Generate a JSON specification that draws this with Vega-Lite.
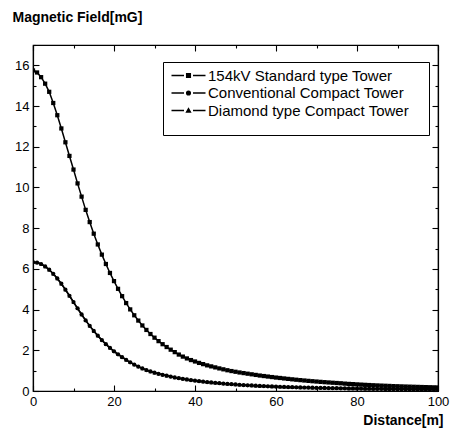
{
  "$schema": "https://vega.github.io/schema/vega-lite/v6.json",
  "width": 405,
  "height": 346,
  "autosize": {"type": "none"},
  "padding": {"left": 33, "top": 45, "right": 13, "bottom": 43},
  "background": "white",
  "config": {
    "view": {"stroke": "black", "strokeWidth": 1.2},
    "font": "Liberation Sans",
    "axis": {
      "domainColor": "black", "domainWidth": 1.2, "tickColor": "black", "tickWidth": 1.1,
      "labelColor": "black", "labelFont": "Liberation Sans", "labelFontSize": 13,
      "titleColor": "black", "titleFont": "Liberation Sans", "titleFontSize": 14, "titleFontWeight": "bold",
      "grid": false
    }
  },
  "data": {"values": [
    {"d":0,"std":15.75,"conv":6.33,"dia":6.33},{"d":1,"std":15.65,"conv":6.31,"dia":6.31},{"d":2,"std":15.42,"conv":6.24,"dia":6.24},{"d":3,"std":15.1,"conv":6.12,"dia":6.12},{"d":4,"std":14.7,"conv":5.96,"dia":5.96},
    {"d":5,"std":14.15,"conv":5.76,"dia":5.76},{"d":6,"std":13.55,"conv":5.53,"dia":5.53},{"d":7,"std":12.9,"conv":5.27,"dia":5.27},{"d":8,"std":12.22,"conv":4.98,"dia":4.98},{"d":9,"std":11.55,"conv":4.68,"dia":4.68},
    {"d":10,"std":10.88,"conv":4.37,"dia":4.37},{"d":11,"std":10.2,"conv":4.06,"dia":4.06},{"d":12,"std":9.55,"conv":3.76,"dia":3.76},{"d":13,"std":8.9,"conv":3.47,"dia":3.47},{"d":14,"std":8.3,"conv":3.2,"dia":3.2},
    {"d":15,"std":7.73,"conv":2.95,"dia":2.95},{"d":16,"std":7.2,"conv":2.72,"dia":2.72},{"d":17,"std":6.7,"conv":2.5,"dia":2.5},{"d":18,"std":6.24,"conv":2.3,"dia":2.3},{"d":19,"std":5.8,"conv":2.12,"dia":2.12},
    {"d":20,"std":5.4,"conv":1.95,"dia":1.95},{"d":21,"std":5.02,"conv":1.8,"dia":1.8},{"d":22,"std":4.66,"conv":1.66,"dia":1.66},{"d":23,"std":4.32,"conv":1.53,"dia":1.53},{"d":24,"std":4.01,"conv":1.41,"dia":1.41},
    {"d":25,"std":3.72,"conv":1.3,"dia":1.3},{"d":26,"std":3.46,"conv":1.2,"dia":1.2},{"d":27,"std":3.22,"conv":1.11,"dia":1.11},{"d":28,"std":3.0,"conv":1.03,"dia":1.03},{"d":29,"std":2.8,"conv":0.96,"dia":0.96},
    {"d":30,"std":2.62,"conv":0.9,"dia":0.9},{"d":31,"std":2.45,"conv":0.845,"dia":0.845},{"d":32,"std":2.3,"conv":0.795,"dia":0.795},{"d":33,"std":2.16,"conv":0.75,"dia":0.75},{"d":34,"std":2.03,"conv":0.708,"dia":0.708},
    {"d":35,"std":1.91,"conv":0.668,"dia":0.668},{"d":36,"std":1.79,"conv":0.632,"dia":0.632},{"d":37,"std":1.69,"conv":0.598,"dia":0.598},{"d":38,"std":1.6,"conv":0.566,"dia":0.566},{"d":39,"std":1.52,"conv":0.537,"dia":0.537},
    {"d":40,"std":1.45,"conv":0.51,"dia":0.51},{"d":41,"std":1.38,"conv":0.485,"dia":0.485},{"d":42,"std":1.32,"conv":0.462,"dia":0.462},{"d":43,"std":1.26,"conv":0.44,"dia":0.44},{"d":44,"std":1.21,"conv":0.42,"dia":0.42},
    {"d":45,"std":1.16,"conv":0.402,"dia":0.402},{"d":46,"std":1.11,"conv":0.385,"dia":0.385},{"d":47,"std":1.065,"conv":0.367,"dia":0.367},{"d":48,"std":1.02,"conv":0.35,"dia":0.35},{"d":49,"std":0.98,"conv":0.335,"dia":0.335},
    {"d":50,"std":0.945,"conv":0.32,"dia":0.32},{"d":51,"std":0.91,"conv":0.307,"dia":0.307},{"d":52,"std":0.88,"conv":0.294,"dia":0.294},{"d":53,"std":0.85,"conv":0.282,"dia":0.282},{"d":54,"std":0.82,"conv":0.271,"dia":0.271},
    {"d":55,"std":0.79,"conv":0.26,"dia":0.26},{"d":56,"std":0.76,"conv":0.25,"dia":0.25},{"d":57,"std":0.735,"conv":0.241,"dia":0.241},{"d":58,"std":0.71,"conv":0.232,"dia":0.232},{"d":59,"std":0.685,"conv":0.224,"dia":0.224},
    {"d":60,"std":0.66,"conv":0.216,"dia":0.216},{"d":61,"std":0.64,"conv":0.209,"dia":0.209},{"d":62,"std":0.617,"conv":0.202,"dia":0.202},{"d":63,"std":0.595,"conv":0.195,"dia":0.195},{"d":64,"std":0.574,"conv":0.189,"dia":0.189},
    {"d":65,"std":0.554,"conv":0.183,"dia":0.183},{"d":66,"std":0.535,"conv":0.177,"dia":0.177},{"d":67,"std":0.516,"conv":0.172,"dia":0.172},{"d":68,"std":0.498,"conv":0.167,"dia":0.167},{"d":69,"std":0.481,"conv":0.162,"dia":0.162},
    {"d":70,"std":0.465,"conv":0.157,"dia":0.157},{"d":71,"std":0.449,"conv":0.153,"dia":0.153},{"d":72,"std":0.434,"conv":0.149,"dia":0.149},{"d":73,"std":0.42,"conv":0.145,"dia":0.145},{"d":74,"std":0.406,"conv":0.141,"dia":0.141},
    {"d":75,"std":0.393,"conv":0.137,"dia":0.137},{"d":76,"std":0.38,"conv":0.134,"dia":0.134},{"d":77,"std":0.362,"conv":0.13,"dia":0.13},{"d":78,"std":0.349,"conv":0.127,"dia":0.127},{"d":79,"std":0.337,"conv":0.124,"dia":0.124},
    {"d":80,"std":0.325,"conv":0.121,"dia":0.121},{"d":81,"std":0.314,"conv":0.118,"dia":0.118},{"d":82,"std":0.303,"conv":0.115,"dia":0.115},{"d":83,"std":0.293,"conv":0.113,"dia":0.113},{"d":84,"std":0.283,"conv":0.11,"dia":0.11},
    {"d":85,"std":0.274,"conv":0.108,"dia":0.108},{"d":86,"std":0.265,"conv":0.105,"dia":0.105},{"d":87,"std":0.257,"conv":0.103,"dia":0.103},{"d":88,"std":0.249,"conv":0.101,"dia":0.101},{"d":89,"std":0.241,"conv":0.099,"dia":0.099},
    {"d":90,"std":0.234,"conv":0.097,"dia":0.097},{"d":91,"std":0.227,"conv":0.095,"dia":0.095},{"d":92,"std":0.22,"conv":0.093,"dia":0.093},{"d":93,"std":0.214,"conv":0.091,"dia":0.091},{"d":94,"std":0.208,"conv":0.089,"dia":0.089},
    {"d":95,"std":0.202,"conv":0.087,"dia":0.087},{"d":96,"std":0.196,"conv":0.086,"dia":0.086},{"d":97,"std":0.19,"conv":0.084,"dia":0.084},{"d":98,"std":0.185,"conv":0.082,"dia":0.082},{"d":99,"std":0.18,"conv":0.081,"dia":0.081},
    {"d":100,"std":0.175,"conv":0.079,"dia":0.079}
  ]},
  "transform": [{"fold": ["std", "conv", "dia"], "as": ["series", "B"]}],
  "layer": [
    {
      "mark": {"type": "line", "strokeWidth": 1.5, "clip": true},
      "encoding": {
        "x": {"field": "d", "type": "quantitative", "scale": {"domain": [0, 100], "nice": false},
          "axis": {"orient": "bottom", "values": [0,10,20,30,40,50,60,70,80,90,100],
            "labelExpr": "datum.value % 20 === 0 ? datum.label : ''",
            "tickSize": {"condition": {"test": "datum.value % 20 === 0", "value": -6}, "value": -3},
            "labelPadding": 10, "labelFlush": false,
            "title": "Distance[m]", "titleAlign": "right", "titleAnchor": null, "titleX": 410, "titleY": 22, "titleBaseline": "top"}},
        "y": {"field": "B", "type": "quantitative", "scale": {"domain": [0, 17], "nice": false},
          "axis": {"orient": "left", "values": [0,1,2,3,4,5,6,7,8,9,10,11,12,13,14,15,16,17],
            "labelExpr": "datum.value % 2 === 0 ? datum.label : ''",
            "tickSize": {"condition": {"test": "datum.value % 2 === 0", "value": -6}, "value": -3},
            "labelPadding": 10, "labelFlush": false,
            "title": "Magnetic Field[mG]", "titleAngle": 0, "titleAlign": "left", "titleAnchor": null, "titleX": -21, "titleY": -35, "titleBaseline": "top"}},
        "color": {"field": "series", "type": "nominal",
          "scale": {"domain": ["std", "conv", "dia"], "range": ["black", "black", "black"]},
          "legend": {
            "orient": "none", "legendX": 130, "legendY": 17,
            "title": "_________________________________________________________________",
            "titleOrient": "bottom", "titleFontSize": 7, "titlePadding": 3, "titleColor": "white", "titleLimit": 1000,
            "strokeColor": "black", "fillColor": "white", "padding": 6,
            "symbolSize": 100, "symbolOffset": 12, "labelOffset": 12, "rowPadding": 1.5,
            "labelFont": "Liberation Sans", "labelFontSize": 15, "labelColor": "black", "labelLimit": 400,
            "labelExpr": "datum.value === 'std' ? '154kV Standard type Tower' : datum.value === 'conv' ? 'Conventional Compact Tower' : 'Diamond type Compact Tower'",
            "encode": {"symbols": {"update": {
              "shape": {"signal": "datum.value === 'std' ? 'M-3.4,0H-0.9M0.9,0H3.4M-0.38,-0.38H0.38V0.38H-0.38Z' : datum.value === 'conv' ? 'M-3.4,0H-0.9M0.9,0H3.4M-0.38,0A0.38,0.38,0,1,0,0.38,0A0.38,0.38,0,1,0,-0.38,0Z' : 'M-3.4,0H-0.9M0.9,0H3.4M0,-0.4L0.4,0.3H-0.4Z'"},
              "fill": {"value": "black"}, "stroke": {"value": "black"}, "strokeWidth": {"value": 1.3}, "opacity": {"value": 1}
            }}}
          }}
      }
    },
    {
      "transform": [{"filter": "datum.series === 'std'"}],
      "mark": {"type": "point", "shape": "square", "filled": true, "size": 18, "opacity": 1, "color": "black", "clip": true},
      "encoding": {
        "x": {"field": "d", "type": "quantitative", "axis": null},
        "y": {"field": "B", "type": "quantitative", "axis": null}
      }
    },
    {
      "transform": [{"filter": "datum.series === 'conv'"}],
      "mark": {"type": "point", "shape": "circle", "filled": true, "size": 18, "opacity": 1, "color": "black", "clip": true},
      "encoding": {
        "x": {"field": "d", "type": "quantitative", "axis": null},
        "y": {"field": "B", "type": "quantitative", "axis": null}
      }
    },
    {
      "transform": [{"filter": "datum.series === 'dia'"}],
      "mark": {"type": "point", "shape": "triangle-up", "filled": true, "size": 16, "opacity": 1, "color": "black", "clip": true},
      "encoding": {
        "x": {"field": "d", "type": "quantitative", "axis": null},
        "y": {"field": "B", "type": "quantitative", "axis": null}
      }
    },
    {
      "mark": {"type": "point", "opacity": 0},
      "encoding": {
        "x": {"field": "d", "type": "quantitative",
          "axis": {"orient": "top", "values": [0,10,20,30,40,50,60,70,80,90,100], "labels": false, "title": null,
            "tickSize": {"condition": {"test": "datum.value % 20 === 0", "value": -6}, "value": -3}}},
        "y": {"field": "B", "type": "quantitative",
          "axis": {"orient": "right", "values": [0,1,2,3,4,5,6,7,8,9,10,11,12,13,14,15,16,17], "labels": false, "title": null,
            "tickSize": {"condition": {"test": "datum.value % 2 === 0", "value": -6}, "value": -3}}}
      }
    }
  ],
  "resolve": {"axis": {"x": "independent", "y": "independent"}}
}
